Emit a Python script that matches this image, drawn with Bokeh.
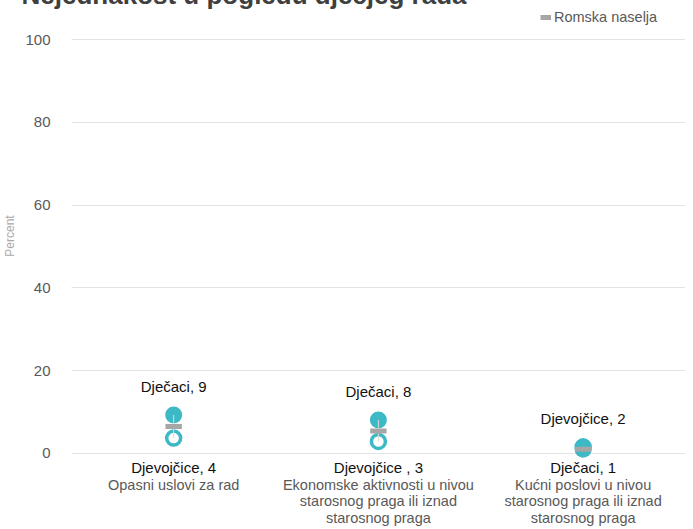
from bokeh.plotting import figure
from bokeh.models import (ColumnDataSource, Range1d, LabelSet, Label,
                          Legend, LegendItem, FixedTicker)
from bokeh.transform import dodge
from bokeh.embed import file_html
from bokeh.resources import INLINE
from bokeh.core.properties import value

# ---- data ----
title_text = "Nejednakost u pogledu dječjeg rada"
categories = [
    "Opasni uslovi za rad",
    "Ekonomske aktivnosti u nivou\nstarosnog praga ili iznad\nstarosnog praga",
    "Kućni poslovi u nivou\nstarosnog praga ili iznad\nstarosnog praga",
]
boys = [9.3, 8.1, 1.0]
girls = [3.7, 2.9, 1.6]
roma_total = [6.5, 5.4, 1.0]
boys_labels = ["Dječaci, 9", "Dječaci, 8", "Dječaci, 1"]
girls_labels = ["Djevojčice, 4", "Djevojčice , 3", "Djevojčice, 2"]
series_name = "Romska naselja"
y_ticks = [0, 20, 40, 60, 80, 100]

TEAL = "#3DB9C6"
GREY = "#A6A6A6"
FONT = "Liberation Sans"

# category slots: each category occupies one unit, centred at i + 0.5
xpos = [i + 0.5 for i in range(len(categories))]
hi = [max(b, g) for b, g in zip(boys, girls)]
hi_lab = [bl if b >= g else gl for b, g, bl, gl in zip(boys, girls, boys_labels, girls_labels)]
lo_lab = [gl if b >= g else bl for b, g, bl, gl in zip(boys, girls, boys_labels, girls_labels)]

src = ColumnDataSource(dict(x=xpos, boys=boys, girls=girls, roma=roma_total,
                            hi=hi, hi_lab=hi_lab))

p = figure(x_range=Range1d(-0.253, len(categories)), y_range=Range1d(-6.3, 111.4),
           width=685, height=537, output_backend="svg", toolbar_location=None,
           min_border_left=8, min_border_right=0, min_border_top=0, min_border_bottom=0)
p.styles = {"margin-top": "-8px"}
p.outline_line_color = None
p.xgrid.grid_line_color = None
p.ygrid.grid_line_color = "#e3e3e3"
p.ygrid.grid_line_width = 1
try:
    p.ygrid.cross_bounds = (0, len(categories))
except Exception:
    p.ygrid.grid_line_color = None
    p.segment(x0=[0] * len(y_ticks), y0=y_ticks, x1=[len(categories)] * len(y_ticks),
              y1=y_ticks, line_color="#e3e3e3", line_width=1)

p.xaxis.ticker = FixedTicker(ticks=xpos)
p.xaxis.major_label_overrides = {x: c for x, c in zip(xpos, categories)}
p.xaxis.axis_line_color = None
p.xaxis.major_tick_line_color = None
p.xaxis.minor_tick_line_color = None
p.xaxis.major_label_text_font = FONT
p.xaxis.major_label_text_font_size = "14.5px"
p.xaxis.major_label_text_color = "#595959"
p.xaxis.major_label_text_line_height = 1.05
p.xaxis.major_label_standoff = -9

p.yaxis.ticker = FixedTicker(ticks=y_ticks)
p.yaxis.axis_line_color = None
p.yaxis.major_tick_line_color = None
p.yaxis.minor_tick_line_color = None
p.yaxis.major_label_text_font = FONT
p.yaxis.major_label_text_font_size = "15px"
p.yaxis.major_label_text_color = "#595959"
p.yaxis.major_label_standoff = -37
p.yaxis.axis_label = "Percent"
p.yaxis.axis_label_text_font = FONT
p.yaxis.axis_label_text_font_size = "12px"
p.yaxis.axis_label_text_font_style = "normal"
p.yaxis.axis_label_text_color = "#aaaaaa"
p.yaxis.axis_label_standoff = 5

# markers
p.scatter(x="x", y="girls", source=src, size=14, fill_color="white",
          line_color=TEAL, line_width=3.5)
p.scatter(x="x", y="boys", source=src, size=17, fill_color=TEAL, line_color=None)
p.segment(x0="x", y0="boys", x1="x", y1="girls", source=src,
          line_color="#dcdcdc", line_width=1)
dash = p.segment(x0=dodge("x", -0.04), y0="roma", x1=dodge("x", 0.04), y1="roma",
                 source=src, line_color=GREY, line_width=5, line_cap="butt")

# data labels: upper ones above the higher marker
p.add_layout(LabelSet(x="x", y="hi", text="hi_lab", source=src, y_offset=23,
                      text_align="center", text_baseline="alphabetic",
                      text_font=value(FONT), text_font_size=value("15px"),
                      text_color="#111111"))
# lower ones sit just under the zero line
for xi, txt in zip(xpos, lo_lab):
    p.add_layout(Label(x=xi, y=y_ticks[0], y_offset=-14, text=txt,
                       text_align="center", text_baseline="alphabetic",
                       text_font=FONT, text_font_size="15px", text_color="#111111"))

# title, cut by the top of the window as in the reference
p.add_layout(Label(x=-0.243, y=110.7, text=title_text,
                   text_font=FONT, text_font_size="26px", text_font_style="bold",
                   text_color="#3f3f3f", text_baseline="alphabetic"))

legend = Legend(items=[LegendItem(label=series_name, renderers=[dash])],
                location=(521, 453), orientation="horizontal",
                padding=0, margin=0, spacing=0, label_standoff=3,
                glyph_width=11, glyph_height=18, label_height=18,
                label_text_font=FONT, label_text_font_size="14.5px",
                label_text_color="#595959",
                border_line_color=None, background_fill_alpha=0)
p.add_layout(legend, "center")

open("out.html", "w").write(file_html(p, INLINE))
